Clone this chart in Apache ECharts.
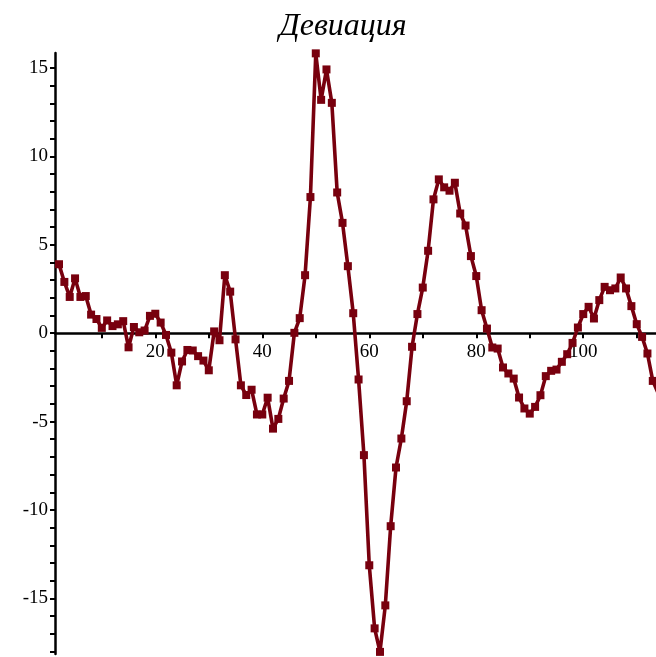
<!DOCTYPE html>
<html>
<head>
<meta charset="utf-8">
<script src="https://cdn.jsdelivr.net/npm/echarts@6/dist/echarts.min.js"></script>
<style>
  html, body { margin: 0; padding: 0; background: #fff; }
  #chart { width: 656px; height: 657px; }
</style>
</head>
<body>
<div id="chart"></div>
<script>
// Sample index and deviation value at each sample
const samples = [
  2, 3, 4, 5, 6, 7, 8, 9, 10, 11, 12, 13, 14, 15, 16, 17, 18, 19, 20, 21,
  22, 23, 24, 25, 26, 27, 28, 29, 30, 31, 32, 33, 34, 35, 36, 37, 38, 39, 40, 41,
  42, 43, 44, 45, 46, 47, 48, 49, 50, 51, 52, 53, 54, 55, 56, 57, 58, 59, 60, 61,
  62, 63, 64, 65, 66, 67, 68, 69, 70, 71, 72, 73, 74, 75, 76, 77, 78, 79, 80, 81,
  82, 83, 84, 85, 86, 87, 88, 89, 90, 91, 92, 93, 94, 95, 96, 97, 98, 99, 100, 101,
  102, 103, 104, 105, 106, 107, 108, 109, 110, 111, 112, 113, 114
];
const deviation = [
  3.9, 2.9, 2.05, 3.1, 2.05, 2.1, 1.05, 0.8, 0.3, 0.72, 0.4, 0.5, 0.68, -0.8, 0.35, 0.05, 0.15, 0.98, 1.1, 0.6,
  -0.1, -1.1, -2.95, -1.6, -0.95, -0.98, -1.3, -1.55, -2.1, 0.1, -0.4, 3.28, 2.35, -0.35, -2.95, -3.5, -3.2, -4.6, -4.6, -3.65,
  -5.4, -4.85, -3.7, -2.7, 0.02, 0.85, 3.28, 7.7, 15.83, 13.2, 14.92, 13.03, 7.96, 6.24, 3.79, 1.13, -2.62, -6.9, -13.13, -16.7,
  -18.03, -15.4, -10.92, -7.6, -5.96, -3.85, -0.77, 1.08, 2.58, 4.66, 7.57, 8.7, 8.25, 8.06, 8.51, 6.77, 6.09, 4.36, 3.23, 1.3,
  0.26, -0.81, -0.87, -1.94, -2.28, -2.57, -3.64, -4.26, -4.55, -4.17, -3.51, -2.43, -2.13, -2.06, -1.62, -1.19, -0.55, 0.32, 1.08, 1.49,
  0.83, 1.87, 2.62, 2.43, 2.53, 3.15, 2.53, 1.53, 0.51, -0.21, -1.15, -2.7, -3.4
];

// Axis ticks and labels
const xTicks = [10, 20, 30, 40, 50, 60, 70, 80, 90, 100, 110];
const xLabels = [20, 40, 60, 80, 100];
const yTicks = [];
for (let v = -18; v <= 15; v++) yTicks.push(v);
const yLabels = [-15, -10, -5, 0, 5, 10, 15];

const xMin = 1.25, xMax = 113.6;
const yMin = -18.15, yMax = 15.85;

const lineColor = '#78000e';
const font = { fontFamily: 'Liberation Serif', fontSize: 19, color: '#000' };

const gridTop = 53, gridBottom = 3;
const chartHeight = 657;
const plotHeight = chartHeight - gridTop - gridBottom;
// horizontal axis sits on the y = 0 line: lift it from the grid bottom
const zeroLift = plotHeight * (0 - yMin) / (yMax - yMin);

const chart = echarts.init(document.getElementById('chart'), null, { renderer: 'canvas' });
chart.setOption({
  animation: false,
  backgroundColor: '#fff',
  title: {
    text: 'Девиация',
    left: 338,
    top: 6,
    textAlign: 'center',
    textStyle: {
      fontFamily: 'Liberation Serif',
      fontStyle: 'italic',
      fontWeight: 'normal',
      fontSize: 32,
      color: '#000'
    }
  },
  grid: { left: 55, right: 0, top: gridTop, bottom: gridBottom, outerBoundsMode: 'none', containLabel: false },
  xAxis: {
    type: 'value',
    min: xMin,
    max: xMax,
    position: 'bottom',
    offset: -zeroLift,
    axisLine: { onZero: false, lineStyle: { color: '#000', width: 2.5 } },
    axisTick: { show: true, length: 5, inside: false, customValues: xTicks, lineStyle: { color: '#000', width: 2 } },
    axisLabel: { customValues: xLabels, margin: 9, ...font },
    splitLine: { show: false }
  },
  yAxis: {
    type: 'value',
    min: yMin,
    max: yMax,
    axisLine: { show: true, onZero: false, lineStyle: { color: '#000', width: 2.5 } },
    axisTick: { show: true, length: 5, customValues: yTicks, lineStyle: { color: '#000', width: 2 } },
    axisLabel: { customValues: yLabels, margin: 7, ...font },
    splitLine: { show: false }
  },
  series: [{
    type: 'line',
    data: samples.map((s, i) => [s, deviation[i]]),
    symbol: 'rect',
    symbolSize: 8,
    showAllSymbol: true,
    clip: true,
    lineStyle: { color: lineColor, width: 3.6 },
    itemStyle: { color: lineColor }
  }]
});
</script>
</body>
</html>
